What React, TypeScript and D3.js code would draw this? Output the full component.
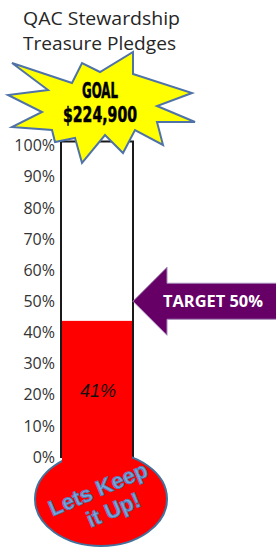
import React, { useEffect, useRef } from "react";
import * as d3 from "d3";

// chart values
const titleLines = ["QAC Stewardship", "Treasure Pledges"];
const goalLines = ["GOAL", "$224,900"];
const tickValues = [0, 0.1, 0.2, 0.3, 0.4, 0.5, 0.6, 0.7, 0.8, 0.9, 1];
const pledged = [0.437];
const pledgedLabel = ["41%"];
const target = [0.5];
const targetLabel = ["TARGET 50%"];
const bulbLines = ["Lets Keep", "it Up!"];

// star outline, relative to its centre
const starPoints: [number, number][] = [
  [-88, -30], [-28, -10], [-18, -30], [0, -21], [33, -41], [33, -19],
  [92, 0], [57, 13], [95, 29], [57, 29], [63, 52], [35, 37],
  [23, 60], [5, 42], [-18, 70], [-25, 45], [-45, 49], [-48, 37],
  [-88, 34], [-58, 19], [-92, 2], [-52, -3],
];

const width = 276;
const height = 548;

export default function App() {
  const ref = useRef<SVGSVGElement>(null);

  useEffect(() => {
    const svg = d3.select(ref.current);
    svg.selectAll("*").remove();

    const y = d3.scaleLinear().domain([0, 1]).range([457, 145.5]);
    const tubeLeft = 61;
    const tubeRight = 133;
    const tubeMid = (tubeLeft + tubeRight) / 2;

    // title
    svg.append("g")
      .selectAll("text")
      .data(titleLines)
      .enter()
      .append("text")
      .attr("x", 23)
      .attr("y", (d, i) => 25 + i * 25)
      .attr("font-family", "'Open Sans', sans-serif")
      .attr("font-size", 18.5)
      .attr("textLength", (d, i) => (i === 0 ? 157 : 153))
      .attr("lengthAdjust", "spacingAndGlyphs")
      .attr("fill", "#262626")
      .text((d) => d);

    // axis labels
    svg.append("g")
      .selectAll("text")
      .data(tickValues)
      .enter()
      .append("text")
      .attr("x", 55)
      .attr("y", (d) => y(d))
      .attr("dy", "0.36em")
      .attr("text-anchor", "end")
      .attr("font-family", "'Open Sans', sans-serif")
      .attr("font-size", 16)
      .attr("fill", "#333")
      .text((d) => d3.format(".0%")(d));

    // tube
    const tubeTop = y(1) - 4;
    svg.append("rect")
      .attr("x", tubeLeft)
      .attr("y", tubeTop)
      .attr("width", tubeRight - tubeLeft)
      .attr("height", y(0) - tubeTop)
      .attr("fill", "#fff")
      .attr("stroke", "#1a1a1a")
      .attr("stroke-width", 2);

    // red fill
    svg.selectAll(".fill")
      .data(pledged)
      .enter()
      .append("rect")
      .attr("class", "fill")
      .attr("x", tubeLeft + 1)
      .attr("y", (d) => y(d))
      .attr("width", tubeRight - tubeLeft - 2)
      .attr("height", (d) => y(0) + 4 - y(d))
      .attr("fill", "#ff0000");

    svg.selectAll(".fillLabel")
      .data(pledgedLabel)
      .enter()
      .append("text")
      .attr("class", "fillLabel")
      .attr("x", tubeMid + 1)
      .attr("y", y(0.215))
      .attr("dy", "0.36em")
      .attr("text-anchor", "middle")
      .attr("font-family", "'Liberation Sans', sans-serif")
      .attr("font-style", "italic")
      .attr("font-size", 18)
      .attr("fill", "#111")
      .text((d) => d);

    // bulb
    const bulbCx = 101;
    const bulbCy = 499;
    svg.append("ellipse")
      .attr("cx", bulbCx)
      .attr("cy", bulbCy)
      .attr("rx", 66)
      .attr("ry", 47)
      .attr("fill", "#ff0000")
      .attr("stroke", "#41719c")
      .attr("stroke-width", 2);
    // cover the join between tube and bulb
    svg.append("rect")
      .attr("x", tubeLeft + 1)
      .attr("y", y(0) - 6)
      .attr("width", tubeRight - tubeLeft - 2)
      .attr("height", 12)
      .attr("fill", "#ff0000");

    const bulbText = svg.append("g")
      .attr("transform", `translate(${bulbCx},${bulbCy - 3}) rotate(-23)`);
    bulbText.selectAll("text")
      .data(bulbLines)
      .enter()
      .append("text")
      .attr("x", (d, i) => (i === 0 ? 0 : 6))
      .attr("y", (d, i) => (i === 0 ? 0 : 25))
      .attr("text-anchor", "middle")
      .attr("font-family", "'Liberation Sans', Arial, sans-serif")
      .attr("font-weight", "bold")
      .attr("font-size", 22)
      .attr("fill", "#79a6dc")
      .attr("stroke", "#4f7bb5")
      .attr("stroke-width", 0.9)
      .text((d) => d);

    // target arrow
    const ty = y(target[0]);
    const tip = tubeRight;
    const headBase = 167;
    const arrow = d3.line()([
      [tip, ty],
      [headBase, ty - 34],
      [headBase, ty - 18],
      [width + 2, ty - 18],
      [width + 2, ty + 18],
      [headBase, ty + 18],
      [headBase, ty + 34],
    ]) + "Z";
    svg.append("path")
      .attr("d", arrow)
      .attr("fill", "#660066")
      .attr("stroke", "#a48ab8")
      .attr("stroke-width", 1);
    svg.selectAll(".targetLabel")
      .data(targetLabel)
      .enter()
      .append("text")
      .attr("class", "targetLabel")
      .attr("x", 213)
      .attr("y", ty)
      .attr("dy", "0.36em")
      .attr("text-anchor", "middle")
      .attr("font-family", "'Open Sans', sans-serif")
      .attr("font-weight", "bold")
      .attr("font-size", 16)
      .attr("textLength", 100)
      .attr("lengthAdjust", "spacingAndGlyphs")
      .attr("fill", "#fff")
      .text((d) => d);

    // goal star
    const starCx = 100;
    const starCy = 93;
    svg.append("path")
      .attr("d", d3.line()(starPoints.map(([px, py]) => [starCx + px, starCy + py])) + "Z")
      .attr("fill", "#ffff00")
      .attr("stroke", "#4f73a8")
      .attr("stroke-width", 2)
      .attr("stroke-linejoin", "miter");
    svg.append("g")
      .selectAll("text")
      .data(goalLines)
      .enter()
      .append("text")
      .attr("x", starCx)
      .attr("y", (d, i) => 98 + i * 24)
      .attr("text-anchor", "middle")
      .attr("font-family", "'DejaVu Sans Condensed', 'DejaVu Sans', sans-serif")
      .attr("font-weight", "bold")
      .attr("font-size", 21)
      .attr("textLength", (d, i) => (i === 0 ? 36 : 74))
      .attr("lengthAdjust", "spacingAndGlyphs")
      .attr("stroke", "#000")
      .attr("stroke-width", 0.5)
      .attr("fill", "#000")
      .text((d) => d);
  }, []);

  return (
    <svg
      ref={ref}
      width={width}
      height={height}
      style={{ position: "absolute", left: 0, top: 0, background: "#fff" }}
    />
  );
}
